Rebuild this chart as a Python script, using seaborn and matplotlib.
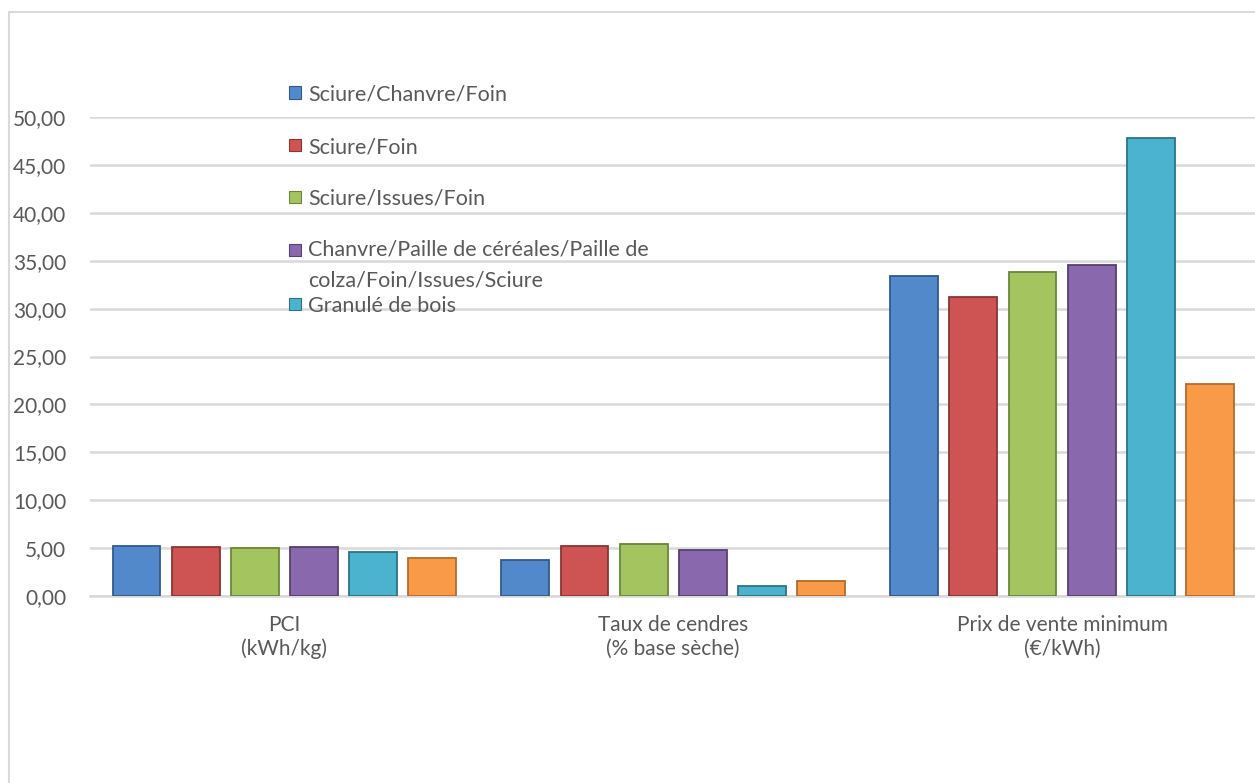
import matplotlib
matplotlib.use("Agg")
import matplotlib.pyplot as plt
import seaborn as sns
import pandas as pd
from matplotlib.patches import Rectangle

categories = ["PCI\n(kWh/kg)", "Taux de cendres\n(% base sèche)", "Prix de vente minimum\n(€/kWh)"]
series_names = ["Sciure/Chanvre/Foin", "Sciure/Foin", "Sciure/Issues/Foin",
                "Chanvre/Paille de céréales/Paille de\ncolza/Foin/Issues/Sciure",
                "Granulé de bois", "Autre"]
v_sciure_chanvre_foin = [5.25, 3.80, 33.40]
v_sciure_foin = [5.15, 5.25, 31.20]
v_sciure_issues_foin = [5.05, 5.45, 33.85]
v_chanvre_paille = [5.15, 4.80, 34.50]
v_granule_bois = [4.55, 1.00, 47.85]
v_autre = [3.93, 1.55, 22.10]
y_ticks = [0, 5, 10, 15, 20, 25, 30, 35, 40, 45, 50]

colors = ["#5289CB", "#CD5452", "#A3C45F", "#8968AE", "#4BB3CE", "#F99A48"]
edges = ["#34598A", "#873634", "#6A8639", "#564170", "#2C7387", "#B46A2C"]

all_vals = [v_sciure_chanvre_foin, v_sciure_foin, v_sciure_issues_foin,
            v_chanvre_paille, v_granule_bois, v_autre]
rows = []
for name, vals in zip(series_names, all_vals):
    for c, v in zip(categories, vals):
        rows.append({"cat": c, "serie": name, "val": v})
df = pd.DataFrame(rows)

sns.set_theme(style="white")
plt.rcParams["font.family"] = ["Lato", "DejaVu Sans"]
txt = "#595959"

W, H = 1255, 783
fig = plt.figure(figsize=(W / 100, H / 100), dpi=100)
ax = fig.add_axes([90 / W, (H - 596) / H, (1256.5 - 90) / W, 479 / H])

sns.barplot(data=df, x="cat", y="val", hue="serie", order=categories,
            hue_order=series_names, palette=colors, saturation=1,
            width=0.913, gap=0.19, ax=ax, legend=False, zorder=3)
for i, cont in enumerate(ax.containers):
    for p in cont.patches:
        p.set_edgecolor(edges[i])
        p.set_linewidth(1.3)

ax.set_ylim(0, 50)
ax.set_xlim(-0.5, 2.5)
ax.set_yticks(y_ticks)
ax.set_yticklabels([f"{t:.2f}".replace(".", ",") for t in y_ticks], color=txt, fontsize=15)
ax.tick_params(axis="y", length=0, pad=17)
ax.tick_params(axis="x", length=0, pad=14, labelsize=15, labelcolor=txt)
ax.set_xlabel("")
ax.set_ylabel("")
ax.grid(axis="y", color="#D9D9D9", linewidth=1.8, zorder=0)
ax.set_axisbelow(True)
for s in ["top", "right", "left"]:
    ax.spines[s].set_visible(False)
ax.spines["bottom"].set_color("#D9D9D9")
ax.spines["bottom"].set_linewidth(1.8)

# chart border (top and left edges visible; the rest is cropped)
fig.lines.append(plt.Line2D([9 / W, 1.0], [1 - 12 / H, 1 - 12 / H], transform=fig.transFigure,
                            color="#D9D9D9", linewidth=1.5))
fig.lines.append(plt.Line2D([9 / W, 9 / W], [0, 1 - 12 / H], transform=fig.transFigure,
                            color="#D9D9D9", linewidth=1.5))

# manual legend (first five entries, as in the reference)
marker_y = [92.5, 145, 196.5, 250, 303.5]
text_y = [92.5, 145, 196.5, 258, 303.5]
for name, col, ec, my, ty in zip(series_names[:5], colors[:5], edges[:5], marker_y, text_y):
    fig.patches.append(Rectangle((289 / W, 1 - (my + 6) / H), 12 / W, 12 / H,
                                 transform=fig.transFigure, facecolor=col,
                                 edgecolor=ec, linewidth=0.8, zorder=5))
    fig.text(308 / W, 1 - ty / H, name, ha="left", va="center_baseline",
             color=txt, fontsize=15.5, linespacing=1.68)

fig.savefig("out.png", dpi=100, facecolor="white")
